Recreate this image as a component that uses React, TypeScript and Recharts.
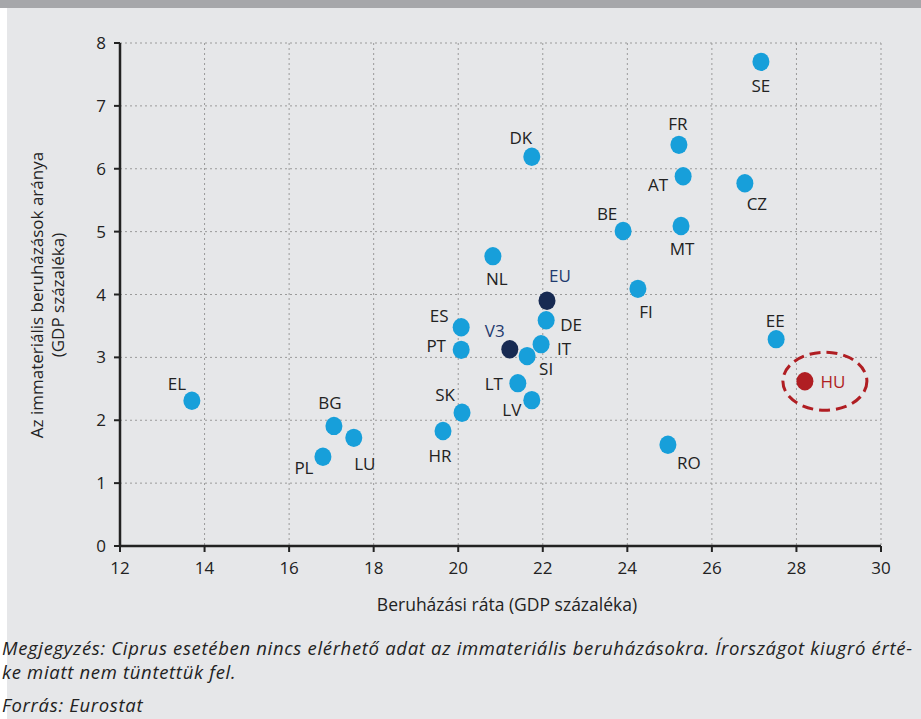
import { ScatterChart, Scatter, XAxis, YAxis, CartesianGrid } from 'recharts';

// Beruházási ráta (x) és immateriális beruházások aránya (y), GDP %
const COUNTRIES = ['SE', 'DK', 'FR', 'AT', 'CZ', 'BE', 'MT', 'NL', 'FI', 'ES', 'DE', 'PT', 'IT', 'SI', 'EE', 'LT', 'EL', 'LV', 'SK', 'BG', 'HR', 'LU', 'RO', 'PL'];
const INVEST_RATE = [27.16, 21.74, 25.22, 25.32, 26.78, 23.9, 25.27, 20.82, 24.25, 20.07, 22.08, 20.07, 21.96, 21.63, 27.52, 21.41, 13.7, 21.74, 20.09, 17.06, 19.64, 17.53, 24.96, 16.8];
const INTANGIBLE = [7.7, 6.19, 6.38, 5.88, 5.77, 5.01, 5.09, 4.61, 4.09, 3.48, 3.59, 3.12, 3.21, 3.02, 3.29, 2.59, 2.31, 2.32, 2.12, 1.91, 1.83, 1.72, 1.61, 1.42];

const AGG_NAMES = ['EU', 'V3'];
const AGG_INVEST = [22.1, 21.22];
const AGG_INTANG = [3.9, 3.13];

const HU_NAME = ['HU'];
const HU_INVEST = [28.2];
const HU_INTANG = [2.62];

const X_TICKS = [12, 14, 16, 18, 20, 22, 24, 26, 28, 30];
const Y_TICKS = [0, 1, 2, 3, 4, 5, 6, 7, 8];

// label offset from the dot centre
const LABEL_POS: Record<string, [number, number]> = {
  SE: [0, 24], DK: [-11, -19], FR: [-1, -21], AT: [-25, 8], CZ: [12, 20],
  BE: [-16, -17], MT: [1, 23], NL: [4, 22], FI: [8, 23], ES: [-22, -12],
  DE: [25, 4], PT: [-25, -4], IT: [23, 4], SI: [19, 12], EE: [-1, -19],
  LT: [-24, 0], EL: [-15, -17], LV: [-20, 9], SK: [-17, -18], BG: [-4, -23],
  HR: [-3, 25], LU: [11, 26], RO: [21, 18], PL: [-19, 11],
  EU: [13, -25], V3: [-15, -19], HU: [28, 0],
};

const toRows = (names: string[], xs: number[], ys: number[]) =>
  names.map((name, i) => ({ name, x: xs[i], y: ys[i] }));

const FONT = '"Open Sans", "DejaVu Sans", sans-serif';

const makeDot = (fill: string, textColor: string, ring?: boolean) => (props: any) => {
  const { cx, cy, payload } = props;
  const [dx, dy] = LABEL_POS[payload.name] || [0, -20];
  return (
    <g>
      {ring && (
        <ellipse cx={cx + 20} cy={cy} rx={42} ry={29} fill="none" stroke="#b01e23" strokeWidth={3} strokeDasharray="11 6" />
      )}
      <ellipse cx={cx} cy={cy} rx={8.5} ry={9.2} fill={fill} />
      <text x={cx + dx} y={cy + dy} textAnchor="middle" dominantBaseline="central" fontSize={17} fill={textColor} fontFamily={FONT}>
        {payload.name}
      </text>
    </g>
  );
};

const YLabel = () => (
  <text transform="translate(43 295) rotate(-90)" textAnchor="middle" fontSize={17} fill="#222" fontFamily={FONT}>
    <tspan x={0} dy={0}>Az immateriális beruházások aránya</tspan>
    <tspan x={0} dy={21}>(GDP százaléka)</tspan>
  </text>
);

const XLabel = () => (
  <text x={507} y={604} textAnchor="middle" dominantBaseline="central" fontSize={17.5} fill="#222" fontFamily={FONT}>
    Beruházási ráta (GDP százaléka)
  </text>
);

export default function App() {
  const tick = { fill: '#222', fontSize: 17, fontFamily: FONT };
  return (
    <div style={{ position: 'relative', width: 921, height: 719, background: '#fff', overflow: 'hidden' }}>
      <style>{'body{margin:0}'}</style>
      <div style={{ position: 'absolute', left: 0, top: 0, width: 921, height: 8, background: '#a6a7aa' }} />
      <div style={{ position: 'absolute', left: 7, top: 8, width: 914, height: 711, background: '#e6e7e9' }} />
      <div style={{ position: 'absolute', left: 0, top: 0 }}>
        <ScatterChart width={921} height={620} margin={{ top: 43, right: 40, left: 60, bottom: 44 }}>
          <CartesianGrid stroke="#9a9a9a" strokeDasharray="2 3" />
          <XAxis
            type="number"
            dataKey="x"
            domain={[12, 30]}
            ticks={X_TICKS}
            tick={tick}
            tickSize={6}
            tickMargin={10}
            height={30}
            axisLine={{ stroke: '#222', strokeWidth: 2.5 }}
            tickLine={{ stroke: '#222', strokeWidth: 2 }}
            label={<XLabel />}
          />
          <YAxis
            type="number"
            dataKey="y"
            domain={[0, 8]}
            ticks={Y_TICKS}
            tick={tick}
            tickSize={6}
            tickMargin={8}
            width={60}
            axisLine={{ stroke: '#222', strokeWidth: 2.5 }}
            tickLine={{ stroke: '#222', strokeWidth: 2 }}
            label={<YLabel />}
          />
          <Scatter data={toRows(COUNTRIES, INVEST_RATE, INTANGIBLE)} shape={makeDot('#179fda', '#222')} isAnimationActive={false} />
          <Scatter data={toRows(AGG_NAMES, AGG_INVEST, AGG_INTANG)} shape={makeDot('#172a52', '#1f3a6e')} isAnimationActive={false} />
          <Scatter data={toRows(HU_NAME, HU_INVEST, HU_INTANG)} shape={makeDot('#b01e23', '#b01e23', true)} isAnimationActive={false} />
        </ScatterChart>
      </div>
      <div style={{ position: 'absolute', left: 2, top: 636, fontFamily: FONT, fontStyle: 'italic', fontSize: 18.5, color: '#222', whiteSpace: 'nowrap', lineHeight: '24px', letterSpacing: 0.68 }}>
        <div>Megjegyzés: Ciprus esetében nincs elérhető adat az immateriális beruházásokra. Írországot kiugró érté-</div>
        <div>ke miatt nem tüntettük fel.</div>
        <div style={{ marginTop: 9 }}>Forrás: Eurostat</div>
      </div>
    </div>
  );
}
